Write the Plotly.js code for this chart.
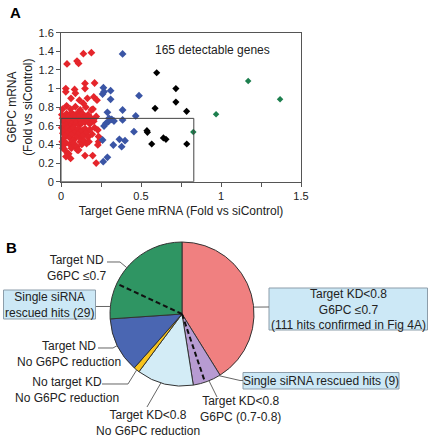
<!DOCTYPE html>
<html>
<head>
<meta charset="utf-8">
<script src="https://cdn.plot.ly/plotly-3.0.1.min.js"></script>
<style>html,body{margin:0;padding:0;background:#fff;}#chart{width:430px;height:438px;}</style>
</head>
<body>
<div id="chart"></div>
<script>
// ---------- Panel A data (Target gene mRNA vs G6PC mRNA, fold vs siControl) ----------
const redX = [0.0375,0.10,0.11,0.14,0.19,
  0.03,0.03,0.085,0.09,0.15,0.15,0.21,0.205,0.165,0.0625,0.115,0.225,
  0.14,0.035,0.09,0.19,0.20,0.06,0.12,0.155,0.01,
  0.005,0.01,0.015,0.02,0.025,0.03,0.035,0.04,0.045,0.05,0.055,0.06,0.065,0.07,0.075,0.08,0.085,0.09,0.095,0.10,0.105,0.11,0.115,0.12,0.125,0.13,0.135,0.14,0.15,0.155,0.165,0.17,0.18,0.19,0.205,0.22,
  0.005,0.012,0.018,0.025,0.032,0.04,0.047,0.055,0.062,0.07,0.078,0.085,0.092,0.10,0.108,0.115,0.125,0.132,0.14,0.15,0.16,0.17,0.18,0.195,0.21,0.23,0.235,
  0.008,0.015,0.02,0.03,0.038,0.048,0.031,0.055,0.065,0.075,0.08,0.09,0.10,0.102,0.11,0.12,0.13,0.15,0.145,0.16,0.175,0.198,0.22,0.23,0.235,0.012,0.06];
const redY = [1.265,1.295,1.27,1.375,1.385,
  1.0,0.965,0.99,0.95,1.055,1.0,1.06,0.91,0.895,0.895,0.875,0.875,
  0.84,0.815,0.805,0.77,0.78,0.78,0.77,0.8,0.78,
  0.72,0.68,0.64,0.70,0.66,0.61,0.73,0.68,0.63,0.71,0.66,0.60,0.74,0.69,0.64,0.72,0.67,0.62,0.70,0.65,0.74,0.68,0.61,0.71,0.66,0.63,0.73,0.68,0.64,0.70,0.66,0.72,0.62,0.68,0.65,0.70,
  0.58,0.52,0.47,0.56,0.50,0.58,0.53,0.47,0.56,0.51,0.58,0.46,0.54,0.49,0.57,0.52,0.46,0.55,0.50,0.57,0.53,0.48,0.56,0.51,0.58,0.555,0.485,
  0.43,0.39,0.35,0.42,0.31,0.30,0.27,0.40,0.36,0.44,0.41,0.38,0.375,0.34,0.34,0.43,0.40,0.28,0.44,0.41,0.43,0.28,0.20,0.395,0.43,0.36,0.25];
const blueX = [0.385,0.265,0.26,0.269,0.31,0.31,0.4875,0.385,0.29,0.467,0.30,0.317,0.331,0.296,0.281,0.269,0.385,0.456,0.26,0.365,0.40,0.327,0.379,0.29,0.264];
const blueY = [1.372,1.01,0.942,0.967,0.977,0.885,0.924,0.77,0.745,0.706,0.68,0.67,0.652,0.645,0.627,0.598,0.663,0.537,0.448,0.455,0.44,0.394,0.376,0.262,0.215];
const blackX = [0.598,0.718,0.718,0.588,0.785,0.537,0.54,0.567,0.64,0.656,0.786];
const blackY = [1.17,1.0,0.855,0.788,0.756,0.548,0.53,0.405,0.47,0.455,0.405];
const greenX = [0.827,0.969,1.17,1.369];
const greenY = [0.534,0.724,1.082,0.885];
const xTickVals = [0,0.25,0.5,0.75,1,1.25,1.5];
const xTickText = ['0','','0.5','','1','','1.5'];
const yTickVals = [0,0.2,0.4,0.6,0.8,1,1.2,1.4,1.6];
const yTickText = ['0','0.2','0.4','0.6','0.8','1','1.2','1.4','1.6'];
const boxTargetKD = 0.83;   // drawn threshold box (x)
const boxG6PC = 0.68;       // drawn threshold box (y)

// ---------- Panel B data (pie, clockwise from 12 o'clock) ----------
const sliceLabels = ['Target KD<0.8, G6PC ≤0.7','Target KD<0.8, G6PC (0.7-0.8)','Target KD<0.8, No G6PC reduction','No target KD, No G6PC reduction','Target ND, No G6PC reduction','Target ND, G6PC ≤0.7'];
const sliceValues = [123,19,38,4,37,78];
const rescuedInPurple = 11;  // drawn share of "Single siRNA rescued hits (9)"
const rescuedInGreen = 24;   // drawn share of "Single siRNA rescued hits (29)"

// ---------- styles ----------
const sliceColors = ['#F08080','#B79BD2','#D3ECF6','#F7C31C','#4A66B2','#2F9563'];
const FONT = 'Liberation Sans, Arial, sans-serif';
const W = 430, H = 438;
const cx = 182, cy = 314, R = 72;   // pie centre / radius in px
const P = (x, y) => [x / W, 1 - y / H];
const total = sliceValues.reduce((a, b) => a + b, 0);
const cumBefore = i => sliceValues.slice(0, i).reduce((a, b) => a + b, 0);
const angOf = v => v / total * 360;
const edge = (deg, rr) => { const a = deg * Math.PI / 180; return [cx + rr * Math.sin(a), cy - rr * Math.cos(a)]; };
const toPath = pts => pts.map((p, i) => { const q = P(p[0], p[1]); return (i ? 'L' : 'M') + q[0].toFixed(5) + ',' + q[1].toFixed(5); }).join(' ');

const mk = (x, y, color, size, name) => ({
  type: 'scatter', mode: 'markers', x: x, y: y, name: name,
  marker: {symbol: 'diamond', size: size, color: color, line: {width: 0}},
  xaxis: 'x', yaxis: 'y', showlegend: false, cliponaxis: false
});

const traces = [
  mk(redX, redY, '#E5252B', 6, 'KD<0.8, G6PC≤0.7'),
  mk(blueX, blueY, '#3A55A5', 6, 'blue'),
  mk(blackX, blackY, '#000000', 5.5, 'black'),
  mk(greenX, greenY, '#1D7F4E', 5, 'green'),
  {
    type: 'pie', labels: sliceLabels, values: sliceValues, sort: false,
    direction: 'clockwise', rotation: 0, textinfo: 'none', showlegend: false,
    marker: {colors: sliceColors, line: {color: '#333333', width: 1}},
    domain: {x: [(cx - R) / W, (cx + R) / W], y: [1 - (cy + R) / H, 1 - (cy - R) / H]}
  }
];

// dashed split lines derived from data
const dashPurple = angOf(cumBefore(1) + rescuedInPurple);
const dashGreen = angOf(cumBefore(5) + rescuedInGreen);

const shapes = [
  {type: 'rect', xref: 'x', yref: 'y', x0: 0, x1: boxTargetKD, y0: 0, y1: boxG6PC, line: {color: '#444', width: 1}},
  {type: 'path', xref: 'paper', yref: 'paper', path: toPath([[cx, cy], edge(dashPurple, R)]), line: {color: '#111', width: 2, dash: '5px,3px'}},
  {type: 'path', xref: 'paper', yref: 'paper', path: toPath([[cx, cy], edge(dashGreen, R)]), line: {color: '#111', width: 2, dash: '5px,3px'}}
];
const conn = pts => ({type: 'path', xref: 'paper', yref: 'paper', path: toPath(pts), line: {color: '#666', width: 1}});
shapes.push(conn([[107, 262], [120, 262], edge(310, R)]));
shapes.push(conn([[96, 306.5], edge(276, R)]));
shapes.push(conn([edge(84.5, R), [269, 307]]));
shapes.push(conn([[98, 348], [113, 348], edge(244, R)]));
shapes.push(conn([[102, 384], [128, 384], edge(219, R)]));
shapes.push(conn([[147, 407], edge(197, R)]));
shapes.push(conn([[217, 397], edge(158, R)]));
shapes.push(conn([edge(149, R), [240, 380.5], [243, 380.5]]));
const box = (x0, y0, x1, y1) => { const a = P(x0, y1), b = P(x1, y0); return {type: 'rect', xref: 'paper', yref: 'paper', x0: a[0], y0: a[1], x1: b[0], y1: b[1], fillcolor: '#CCE8F6', line: {color: '#8C9DAA', width: 1}, layer: 'below'}; };
shapes.push(box(3.5, 290, 95.5, 319));
shapes.push(box(269, 288, 427.5, 330));
shapes.push(box(243, 372.5, 399, 389));

const txt = (x, y, text, extra) => { const q = P(x, y); return Object.assign({xref: 'paper', yref: 'paper', x: q[0], y: q[1], text: text, showarrow: false, xanchor: 'center', yanchor: 'middle', align: 'center', font: {family: FONT, size: 12, color: '#222'}}, extra || {}); };

const annotations = [
  txt(8, 12, '<b>A</b>', {font: {family: FONT, size: 15, color: '#000'}, xanchor: 'left'}),
  txt(4, 247, '<b>B</b>', {font: {family: FONT, size: 15, color: '#000'}, xanchor: 'left'}),
  {xref: 'x', yref: 'y', x: 0.944, y: 1.415, text: '165 detectable genes', showarrow: false, font: {family: FONT, size: 12, color: '#222'}},
  txt(77, 268, 'Target ND<br>G6PC ≤0.7'),
  txt(49.5, 304.5, 'Single siRNA<br>rescued hits (29)'),
  txt(348, 309, 'Target KD<0.8<br>G6PC ≤0.7<br>(111 hits confirmed in Fig 4A)'),
  txt(69, 354, 'Target ND<br>No G6PC reduction'),
  txt(67, 390, 'No target KD<br>No G6PC reduction'),
  txt(148, 423, 'Target KD<0.8<br>No G6PC reduction'),
  txt(240, 408.5, 'Target KD<0.8<br>G6PC (0.7-0.8)'),
  txt(321, 381, 'Single siRNA rescued hits (9)')
];

const layout = {
  width: W, height: H,
  margin: {l: 0, r: 0, t: 0, b: 0},
  paper_bgcolor: '#fff', plot_bgcolor: '#fff',
  font: {family: FONT, size: 11, color: '#222'},
  showlegend: false,
  xaxis: {
    domain: [61 / W, 301 / W], range: [0, 1.5], tickmode: 'array', tickvals: xTickVals, ticktext: xTickText,
    ticks: 'outside', ticklen: 4, tickcolor: '#555', showline: true, linecolor: '#555', linewidth: 1, mirror: true,
    showgrid: false, zeroline: false, tickfont: {family: FONT, size: 11, color: '#222'}, automargin: false,
    title: {text: 'Target Gene mRNA (Fold vs siControl)', font: {family: FONT, size: 12, color: '#222'}, standoff: 5}
  },
  yaxis: {
    domain: [1 - 181.7 / H, 1 - 32.7 / H], range: [0, 1.6], tickmode: 'array', tickvals: yTickVals, ticktext: yTickText,
    ticks: 'outside', ticklen: 4, tickcolor: '#555', showline: true, linecolor: '#555', linewidth: 1, mirror: true,
    showgrid: false, zeroline: false, tickfont: {family: FONT, size: 11, color: '#222'}, automargin: false,
    title: {text: 'G6PC mRNA<br>(Fold vs siControl)', font: {family: FONT, size: 12, color: '#222'}, standoff: 3}
  },
  shapes: shapes,
  annotations: annotations
};

Plotly.newPlot('chart', traces, layout, {displayModeBar: false, staticPlot: true});
</script>
</body>
</html>
